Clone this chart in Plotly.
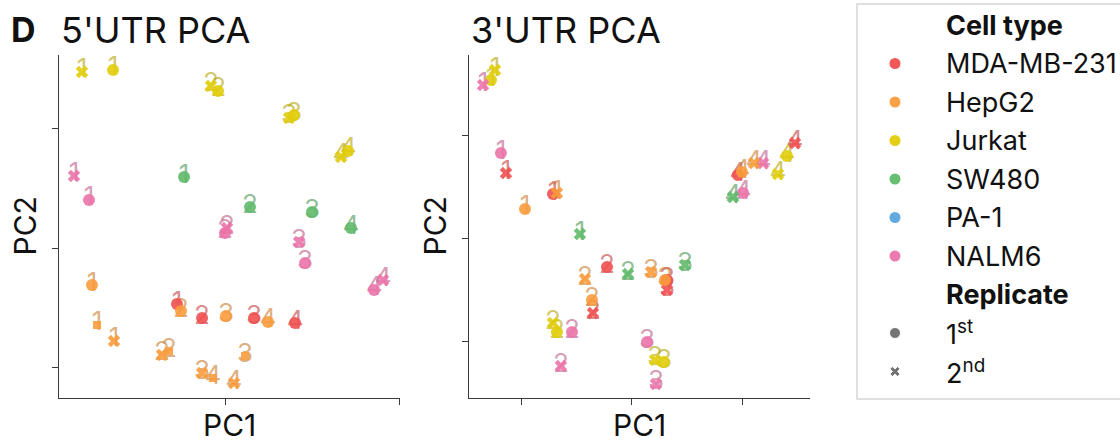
import plotly.graph_objects as go

# ---------------- data ----------------
cell_types = ["MDA-MB-231", "HepG2", "Jurkat", "SW480", "PA-1", "NALM6"]
cell_colors = ["#F05050", "#FA9B3C", "#E1CD0A", "#5FB969", "#5AA5DC", "#EB73AA"]
replicate_labels = ["1<sup>st</sup>", "2<sup>nd</sup>"]

# 5'UTR PCA
utr5_cell = (["Jurkat"] * 8 + ["NALM6"] * 8 + ["SW480"] * 4 + ["MDA-MB-231"] * 4 + ["HepG2"] * 12)
utr5_time = [1, 1, 2, 2, 3, 3, 4, 4,
             1, 1, 2, 2, 3, 3, 4, 4,
             1, 2, 3, 4,
             1, 2, 3, 4,
             1, 1, 1, 2, 2, 2, 3, 3, 3, 4, 4, 4]
utr5_rep = [2, 1, 2, 1, 2, 1, 2, 1,
            2, 1, 1, 2, 2, 1, 1, 2,
            1, 1, 1, 1,
            1, 1, 1, 1,
            1, 3, 2, 1, 2, 3, 1, 3, 2, 1, 3, 2]
utr5_pc1 = [-16.44, -12.87, -1.61, -0.80, 7.36, 7.93, 13.33, 14.14,
            -17.36, -15.63, 0.00, 0.23, 8.51, 9.20, 17.13, 18.16,
            -4.71, 2.87, 10.00, 14.48,
            -5.52, -2.64, 3.33, 8.05,
            -15.29, -14.71, -12.76, -5.06, -7.24, -6.44, 0.11, 2.30, -2.64, 4.94, -1.38, 1.03]
utr5_pc2 = [14.73, 14.90, 13.56, 13.14, 10.88, 11.13, 7.62, 8.12,
            6.03, 4.02, 1.26, 1.67, 0.50, -1.26, -3.51, -2.68,
            5.94, 3.43, 3.01, 1.67,
            -4.69, -5.86, -5.86, -6.28,
            -3.10, -6.44, -7.78, -5.27, -8.95, -8.62, -5.69, -9.04, -10.46, -6.19, -10.88, -11.30]

# 3'UTR PCA
utr3_cell = (["Jurkat"] * 8 + ["NALM6"] * 8 + ["MDA-MB-231"] * 8 + ["HepG2"] * 8 + ["SW480"] * 4)
utr3_time = [1, 1, 2, 2, 3, 3, 4, 4,
             1, 1, 2, 2, 3, 3, 4, 4,
             1, 1, 2, 2, 3, 3, 4, 4,
             1, 1, 2, 2, 3, 3, 4, 4,
             1, 2, 3, 4]
utr3_rep = [2, 1, 2, 1, 2, 1, 1, 2,
            2, 1, 1, 2, 1, 2, 1, 2,
            2, 1, 1, 2, 1, 2, 1, 2,
            1, 2, 2, 1, 2, 1, 1, 2,
            2, 2, 2, 2]
utr3_pc1 = [-12.40, -12.76, -7.15, -6.79, 2.08, 2.90, 14.03, 13.21,
            -13.48, -11.86, -5.43, -6.43, 1.36, 2.17, 10.05, 11.86,
            -11.40, -7.15, -2.26, -3.53, 3.17, 3.17, 9.59, 14.75,
            -9.68, -6.79, -4.25, -3.62, 1.72, 2.99, 9.95, 11.04,
            -4.71, -0.36, 4.80, 9.14]
utr3_pc2 = [16.31, 15.34, -8.25, -9.13, -11.84, -12.04, 7.96, 6.21,
            14.85, 8.25, -9.13, -12.43, -10.10, -14.17, 4.37, 7.28,
            6.31, 4.27, -2.82, -7.28, -4.08, -5.05, 6.12, 9.22,
            2.82, 4.37, -3.98, -6.02, -3.30, -4.08, 6.41, 7.28,
            0.39, -3.50, -2.62, 3.98]

# ---------------- styling ----------------
FONT = "Inter"
W, H = 1120, 442
sym_map = {1: "circle", 2: "x", 3: "square"}
size_map = {1: 12, 2: 11, 3: 8}
color_of = dict(zip(cell_types, cell_colors))


def text_rgba(hex_color, k=0.8, a=0.62):
    r, g, b = (int(hex_color[i:i + 2], 16) for i in (1, 3, 5))
    return f"rgba({int(r * k)},{int(g * k)},{int(b * k)},{a})"


panels = [
    dict(cell=utr5_cell, time=utr5_time, rep=utr5_rep, x=utr5_pc1, y=utr5_pc2,
         xd=[59 / W, 400 / W], xr=[-19.08, 20.11], xt=[0, 20],
         yr=[-12.55, 16.15], yt=[-10, 0, 10], title="5'UTR PCA"),
    dict(cell=utr3_cell, time=utr3_time, rep=utr3_rep, x=utr3_pc1, y=utr3_pc2,
         xd=[469 / W, 810 / W], xr=[-14.75, 16.11], xt=[-10, 0, 10],
         yr=[-15.53, 17.77], yt=[-10, 0, 10], title="3'UTR PCA"),
]
ydom = [(H - 398) / H, (H - 55) / H]
AX_COL = "#3a3a3a"
TXT_COL = "#111111"
LABEL_SHIFT_PX = 1.0   # vertical nudge of the digit labels relative to their marker

fig = go.Figure()
layout = dict(width=W, height=H, margin=dict(l=0, r=0, t=0, b=0),
              paper_bgcolor="white", plot_bgcolor="rgba(0,0,0,0)", showlegend=False,
              font=dict(family=FONT, color=TXT_COL))
annotations = []

for i, p in enumerate(panels):
    n = "" if i == 0 else str(i + 1)
    xa, ya = "x" + n, "y" + n
    plot_h = (ydom[1] - ydom[0]) * H
    dy = LABEL_SHIFT_PX * (p["yr"][1] - p["yr"][0]) / plot_h
    fig.add_trace(go.Scatter(
        x=p["x"], y=[v + dy for v in p["y"]], mode="text",
        text=[str(t) for t in p["time"]],
        textposition="middle center",
        textfont=dict(family=FONT, size=26, color=[text_rgba(color_of[c]) for c in p["cell"]]),
        xaxis=xa, yaxis=ya, hoverinfo="skip"))
    fig.add_trace(go.Scatter(
        x=p["x"], y=p["y"], mode="markers",
        marker=dict(color=[color_of[c] for c in p["cell"]],
                    symbol=[sym_map[r] for r in p["rep"]],
                    size=[size_map[r] for r in p["rep"]],
                    opacity=0.9, line=dict(width=0)),
        xaxis=xa, yaxis=ya))
    axis_common = dict(showline=True, linecolor=AX_COL, linewidth=1.3, ticks="outside",
                       ticklen=6, tickwidth=1.3, tickcolor=AX_COL, showticklabels=False,
                       showgrid=False, zeroline=False, mirror=False)
    layout["xaxis" + n] = dict(domain=p["xd"], range=p["xr"], tickmode="array",
                               tickvals=p["xt"], anchor=ya, **axis_common)
    layout["yaxis" + n] = dict(domain=ydom, range=p["yr"], tickmode="array",
                               tickvals=p["yt"], anchor=xa, **axis_common)
    x0, x1 = p["xd"]
    annotations.append(dict(text=p["title"], x=x0, y=1 - 30 / H, xref="paper", yref="paper",
                            xanchor="left", yanchor="middle", showarrow=False,
                            font=dict(family=FONT, size=36, color=TXT_COL)))
    annotations.append(dict(text="PC1", x=(x0 + x1) / 2, y=1 - 425 / H, xref="paper", yref="paper",
                            xanchor="center", yanchor="middle", showarrow=False,
                            font=dict(family=FONT, size=30, color=TXT_COL)))
    annotations.append(dict(text="PC2", x=x0 - 34 / W, y=(ydom[0] + ydom[1]) / 2, xref="paper",
                            yref="paper", xanchor="center", yanchor="middle", textangle=-90,
                            showarrow=False, font=dict(family=FONT, size=30, color=TXT_COL)))

annotations.append(dict(text="<b>D</b>", x=9 / W, y=1 - 30 / H, xref="paper", yref="paper",
                        xanchor="left", yanchor="middle", showarrow=False,
                        font=dict(family=FONT, size=34, color=TXT_COL)))

# ---------------- legend (manual) ----------------
LEG_X0, LEG_TOP, LEG_STEP = 850, 25, 38.5
MK_X, TX_X = 895, 944
rows = (["<b>Cell type</b>"] + cell_types + ["<b>Replicate</b>"] + replicate_labels)
row_y = [LEG_TOP + LEG_STEP * k for k in range(len(rows))]
fig.add_trace(go.Scatter(
    x=[MK_X] * len(cell_types), y=row_y[1:1 + len(cell_types)], mode="markers",
    marker=dict(color=cell_colors, size=11, symbol="circle", opacity=0.95),
    xaxis="x3", yaxis="y3", hoverinfo="skip"))
fig.add_trace(go.Scatter(
    x=[MK_X] * len(replicate_labels), y=row_y[-len(replicate_labels):], mode="markers",
    marker=dict(color="#3a3a3a", size=[11, 9], symbol=["circle", "x"]),
    xaxis="x3", yaxis="y3", hoverinfo="skip"))
for label, yy in zip(rows, row_y):
    annotations.append(dict(text=label, x=TX_X, y=yy, xref="x3", yref="y3",
                            xanchor="left", yanchor="middle", showarrow=False,
                            font=dict(family=FONT, size=27, color=TXT_COL)))
layout["xaxis3"] = dict(domain=[LEG_X0 / W, 1], range=[LEG_X0, W], visible=False,
                        fixedrange=True, anchor="y3")
layout["yaxis3"] = dict(domain=[0, 1], range=[H, 0], visible=False, fixedrange=True, anchor="x3")

layout["shapes"] = [dict(type="rect", xref="paper", yref="paper",
                         x0=857 / W, x1=1.02, y0=1 - 399 / H, y1=1 - 4 / H,
                         line=dict(color="#d6d6d6", width=1.5), fillcolor="rgba(0,0,0,0)",
                         layer="below")]
layout["annotations"] = annotations
fig.update_layout(**layout)
fig.write_html("out.html")
